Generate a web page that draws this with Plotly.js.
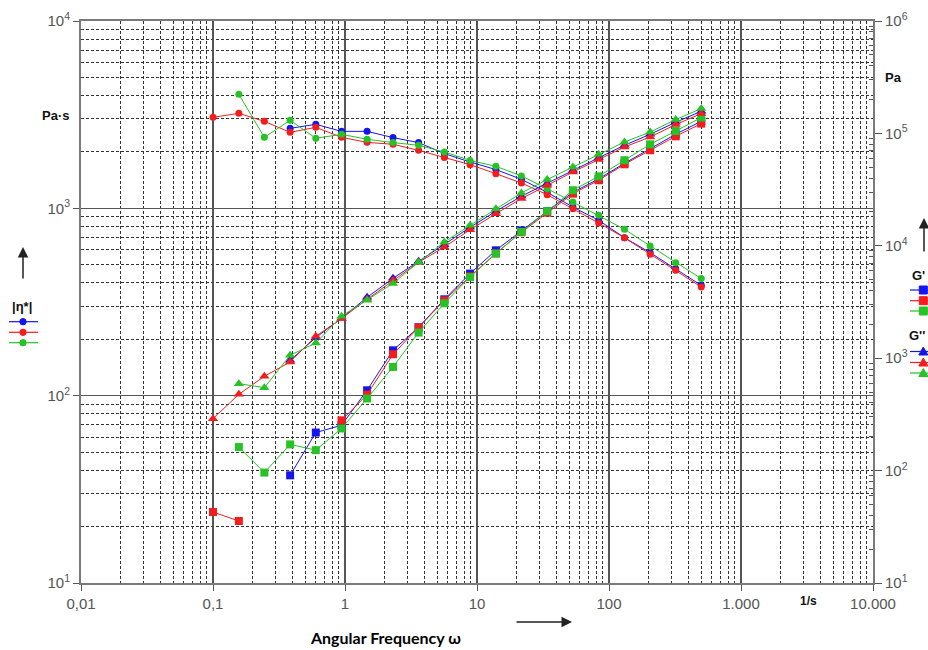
<!DOCTYPE html>
<html>
<head>
<meta charset="utf-8">
<script src="https://cdn.plot.ly/plotly-3.0.1.min.js"></script>
<style>
  html, body { margin: 0; padding: 0; background: #fff; }
  #chart { width: 928px; height: 650px; }
</style>
</head>
<body>
<div id="chart"></div>
<script>
// Angular frequency sweep (1/s)
const freq = [0.1, 0.157, 0.245, 0.384, 0.601, 0.941, 1.47, 2.31, 3.61, 5.66,
              8.86, 13.9, 21.7, 34.0, 53.3, 83.5, 131, 205, 320, 500];

// Complex viscosity |η*| (Pa·s), left axis
const etaBlue  = [null, null, null, 2673, 2808, 2576, 2576, 2385, 2244, 1960,
                  1767, 1610, 1429, 1217, 1016, 863, 697, 580, 476, 388];
const etaRed   = [3060, 3215, 2912, 2545, 2706, 2393, 2250, 2197, 2040, 1866,
                  1711, 1531, 1365, 1183, 996, 835, 697, 568, 467, 380];
const etaGreen = [null, 4060, 2393, 2951, 2366, 2483, 2337, 2244, 2170, 1999,
                  1803, 1676, 1489, 1274, 1081, 918, 773, 630, 513, 422];

// Storage modulus G' (Pa), right axis
const gpBlue  = [null, null, null, 90.8, 218, 253, 518, 1175, 1884, 3340,
                 5660, 9120, 13700, 20300, 29900, 39400, 54200, 73600, 98200, 128200];
const gpRed   = [42.8, 35.6, null, null, null, 280, 474, 1084, 1871, 3270,
                 5350, 8570, 13200, 19700, 29100, 38300, 53100, 70800, 94200, 122200];
const gpGreen = [null, 162, 96, 171, 152, 237, 438, 836, 1690, 3080,
                 5270, 8530, 13300, 20300, 31200, 41500, 57700, 80000, 105000, 138300];

// Loss modulus G'' (Pa), right axis
const gppBlue  = [null, null, null, 957, 1524, 2270, 3480, 5140, 7280, 10200,
                  14600, 20300, 27600, 36000, 47000, 60700, 78400, 98200, 125600, 157300];
const gppRed   = [290, 477, 690, 925, 1567, 2250, 3340, 4930, 7130, 9750,
                  13900, 19300, 26300, 34500, 45400, 58500, 75700, 92900, 119700, 150000];
const gppGreen = [null, 594, 547, 1062, 1365, 2360, 3270, 4630, 7130, 10800,
                  15200, 21400, 29500, 38800, 50200, 65200, 83800, 102800, 132700, 166300];

// Tick labels
const xTickVals = [0.01, 0.1, 1, 10, 100, 1000, 10000];
const xTickText = ['0,01', '0,1', '1', '10', '100', '1.000', '10.000'];
const yLeftVals = [10, 100, 1000, 10000];
const yLeftText = ['10<sup>1</sup>', '10<sup>2</sup>', '10<sup>3</sup>', '10<sup>4</sup>'];
const yRightVals = [10, 100, 1000, 10000, 100000, 1000000];
const yRightText = ['10<sup>1</sup>', '10<sup>2</sup>', '10<sup>3</sup>', '10<sup>4</sup>',
                    '10<sup>5</sup>', '10<sup>6</sup>'];

const BLUE = '#1414ee', RED = '#f41c1c', GREEN = '#26c226';

// minor log ticks 2..9 within each decade
function minorTicks(lo, hi) {
  const out = [];
  for (let d = lo; d < hi; d++) for (let k = 2; k <= 9; k++) out.push(k * Math.pow(10, d));
  return out;
}

// plot area in pixels, used for placing decorations around it
const M = { l: 81, r: 55, t: 21, b: 67 };
const W = 928, H = 650;
const PW = W - M.l - M.r, PH = H - M.t - M.b;
const px = x => (x - M.l) / PW;
const py = y => (H - M.b - y) / PH;

function series(y, color, symbol, size, axis) {
  return {
    x: freq, y: y, yaxis: axis, type: 'scatter', mode: 'lines+markers',
    line: { color: color, width: 1 },
    marker: { color: color, symbol: symbol, size: size },
    cliponaxis: true, hoverinfo: 'x+y', showlegend: false
  };
}

const data = [
  series(etaBlue, BLUE, 'circle', 7, 'y'),
  series(etaRed, RED, 'circle', 7, 'y'),
  series(etaGreen, GREEN, 'circle', 7, 'y'),
  series(gpBlue, BLUE, 'square', 8, 'y2'),
  series(gpRed, RED, 'square', 8, 'y2'),
  series(gpGreen, GREEN, 'square', 8, 'y2'),
  series(gppBlue, BLUE, 'triangle-up', 9, 'y2'),
  series(gppRed, RED, 'triangle-up', 9, 'y2'),
  series(gppGreen, GREEN, 'triangle-up', 9, 'y2')
];

const tickFont = { family: 'Liberation Sans, Arial, sans-serif', size: 15, color: '#555' };
const minorGrid = { showgrid: true, gridcolor: '#333', gridwidth: 1, griddash: '3px,2px' };

// legend keys drawn beside the axes
const shapes = [];
function keyLine(x0, x1, y, color) {
  shapes.push({ type: 'line', xref: 'paper', yref: 'paper', x0: px(x0), x1: px(x1), y0: py(y), y1: py(y),
                line: { color: color, width: 1.2 } });
}
function keyMarker(kind, x, y, color) {
  const s = { xref: 'paper', yref: 'paper', xsizemode: 'pixel', ysizemode: 'pixel',
              xanchor: px(x), yanchor: py(y), fillcolor: color, line: { color: color, width: 1 } };
  if (kind === 'circle') Object.assign(s, { type: 'circle', x0: -3.2, x1: 3.2, y0: -3.2, y1: 3.2 });
  if (kind === 'square') Object.assign(s, { type: 'rect', x0: -4, x1: 4, y0: -4, y1: 4 });
  if (kind === 'triangle') Object.assign(s, { type: 'path', path: 'M -4.5,-3.5 L 4.5,-3.5 L 0,4.5 Z' });
  shapes.push(s);
}
[[321.7, BLUE], [332.3, RED], [342.7, GREEN]].forEach(([y, c]) => { keyLine(9, 38, y, c); keyMarker('circle', 23, y, c); });
[[290, BLUE], [300.7, RED], [311, GREEN]].forEach(([y, c]) => { keyLine(910, 940, y, c); keyMarker('square', 923.3, y, c); });
[[351.5, BLUE], [362.5, RED], [373, GREEN]].forEach(([y, c]) => { keyLine(910, 940, y, c); keyMarker('triangle', 923.3, y, c); });

const boldFont = (size) => ({ family: 'Liberation Sans, Arial, sans-serif', size: size, color: '#111' });

const annotations = [
  { xref: 'paper', yref: 'paper', x: px(71), y: py(115), xanchor: 'right', yanchor: 'middle',
    text: '<b>Pa·s</b>', showarrow: false, font: boldFont(13) },
  { xref: 'paper', yref: 'paper', x: px(22), y: py(306), xanchor: 'center', yanchor: 'middle',
    text: '<b>|η*|</b>', showarrow: false, font: boldFont(13) },
  { xref: 'paper', yref: 'paper', x: px(883), y: py(77), xanchor: 'left', yanchor: 'middle',
    text: '<b>Pa</b>', showarrow: false, font: boldFont(13) },
  { xref: 'paper', yref: 'paper', x: px(927), y: py(275), xanchor: 'right', yanchor: 'middle',
    text: "<b>G'</b>", showarrow: false, font: boldFont(13) },
  { xref: 'paper', yref: 'paper', x: px(927), y: py(335), xanchor: 'right', yanchor: 'middle',
    text: "<b>G''</b>", showarrow: false, font: boldFont(13) },
  { xref: 'paper', yref: 'paper', x: px(808), y: py(601), xanchor: 'center', yanchor: 'middle',
    text: '<b>1/s</b>', showarrow: false, font: boldFont(12) },
  { xref: 'paper', yref: 'paper', x: px(385), y: py(637), xanchor: 'center', yanchor: 'middle',
    text: '<b>Angular Frequency ω</b>', showarrow: false,
    font: { family: 'Lato, Open Sans, sans-serif', size: 16, color: '#000' } },
  // direction arrows
  { xref: 'paper', yref: 'paper', x: px(23), y: py(247), ax: 0, ay: 33, text: '', showarrow: true,
    arrowhead: 2, arrowsize: 1.4, arrowwidth: 1.5, arrowcolor: '#222' },
  { xref: 'paper', yref: 'paper', x: px(924), y: py(218), ax: 0, ay: 35, text: '', showarrow: true,
    arrowhead: 2, arrowsize: 1.4, arrowwidth: 1.5, arrowcolor: '#222' },
  { xref: 'paper', yref: 'paper', x: px(572), y: py(622), ax: -57, ay: 0, text: '', showarrow: true,
    arrowhead: 2, arrowsize: 1.4, arrowwidth: 1.5, arrowcolor: '#222' }
];

const layout = {
  width: W, height: H,
  margin: M,
  paper_bgcolor: '#fff', plot_bgcolor: '#fff',
  showlegend: false,
  font: { family: 'Liberation Sans, Arial, sans-serif' },
  xaxis: {
    type: 'log', range: [-2, 4],
    tickmode: 'array', tickvals: xTickVals, ticktext: xTickText,
    tickfont: tickFont, ticks: 'outside', ticklen: 6, tickcolor: '#555',
    showgrid: true, gridcolor: '#555', gridwidth: 1.2,
    showline: true, linecolor: '#7a7a7a', linewidth: 2, mirror: true,
    zeroline: false,
    minor: Object.assign({ tickmode: 'array', tickvals: minorTicks(-2, 4), ticks: '' }, minorGrid)
  },
  yaxis: {
    type: 'log', range: [1, 4],
    tickmode: 'array', tickvals: yLeftVals, ticktext: yLeftText,
    tickfont: tickFont, ticks: 'outside', ticklen: 6, tickcolor: '#555',
    showgrid: true, gridcolor: '#555', gridwidth: 1.2,
    showline: true, linecolor: '#7a7a7a', linewidth: 2,
    zeroline: false,
    minor: Object.assign({ tickmode: 'array', tickvals: minorTicks(1, 4), ticks: '' }, minorGrid)
  },
  yaxis2: {
    type: 'log', range: [1, 6], overlaying: 'y', side: 'right',
    tickmode: 'array', tickvals: yRightVals, ticktext: yRightText,
    tickfont: tickFont, ticks: 'outside', ticklen: 7, tickcolor: '#555',
    showgrid: false,
    showline: true, linecolor: '#7a7a7a', linewidth: 2,
    zeroline: false,
    minor: { tickmode: 'array', tickvals: minorTicks(1, 6), ticks: 'inside', ticklen: 4,
             tickcolor: '#555', showgrid: false }
  },
  shapes: shapes,
  annotations: annotations
};

Plotly.newPlot('chart', data, layout, { staticPlot: true, displayModeBar: false });
</script>
</body>
</html>
